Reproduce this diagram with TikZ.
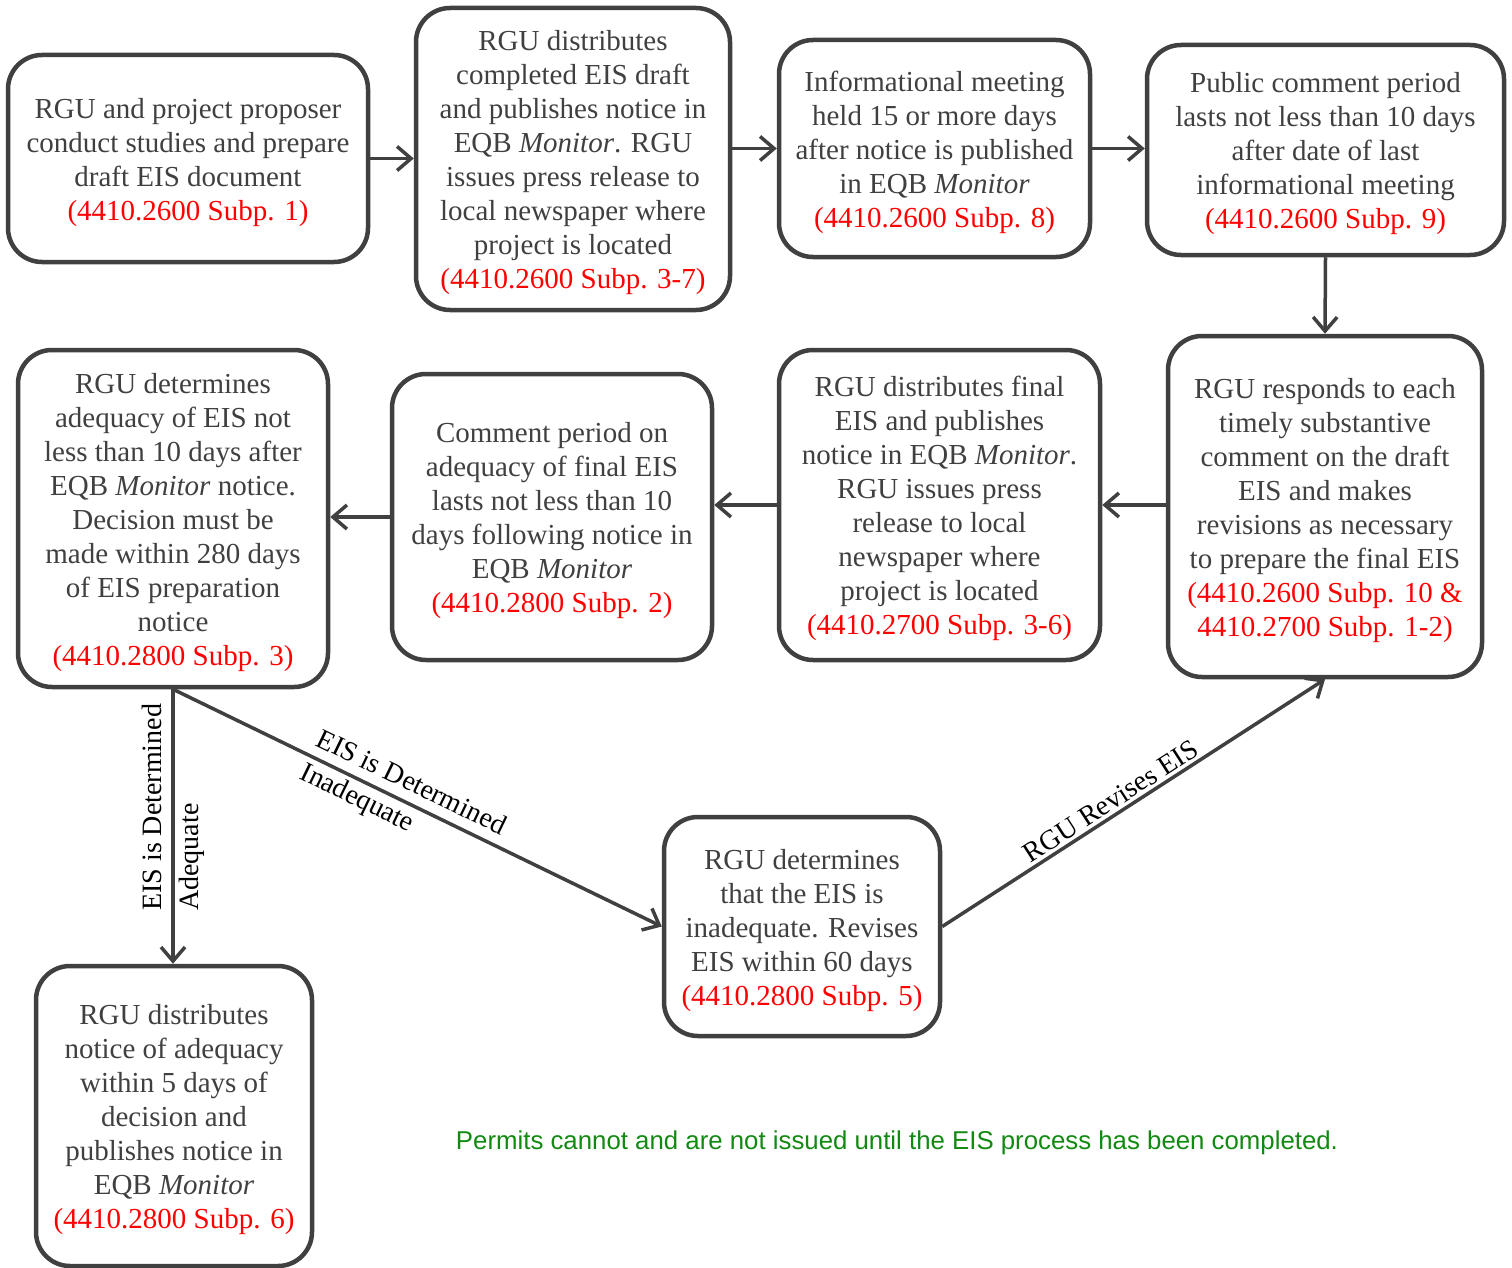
\documentclass[tikz,border=0pt]{standalone}
\usepackage{fontspec}
\setmainfont{Liberation Serif}
\newfontfamily\greenfont{Liberation Sans}
\usetikzlibrary{arrows.meta}
\definecolor{lc}{HTML}{404040}
\definecolor{tc}{HTML}{404040}
\definecolor{rc}{HTML}{FF0000}
\definecolor{gc}{HTML}{128A12}
\newcommand\rf[1]{\textcolor{rc}{#1}}
\newcommand\topst{\rule{0pt}{28pt}}
\tikzset{
  box/.style={draw=lc, line width=4.5pt, rounded corners=34pt, fill=white,
    text=tc, align=center, inner sep=0pt, rectangle,
    font=\fontsize{29}{34}\selectfont},
  conn/.style={draw=lc, line width=3.5pt, -{Straight Barb[length=14pt,width=24pt,line width=3.5pt]}},
  lbl/.style={text=black, font=\fontsize{28}{37}\selectfont, inner sep=3pt}
}
\begin{document}
\begin{tikzpicture}[x=1pt,y=-1pt]
\useasboundingbox (0,0) rectangle (1512,1268);
\node[box, minimum width=360pt, minimum height=207pt] (b1) at (188,158.5)
  {\topst RGU and project proposer\\conduct studies and prepare\\draft EIS document\\\rf{(4410.2600 Subp. 1)}};
\node[box, minimum width=314pt, minimum height=302pt] (b2) at (573,159)
  {\topst RGU distributes\\completed EIS draft\\and publishes notice in\\EQB \textit{Monitor}. RGU\\issues press release to\\local newspaper where\\project is located\\\rf{(4410.2600 Subp. 3-7)}};
\node[box, minimum width=311pt, minimum height=217pt] (b3) at (934.5,148.5)
  {\topst Informational meeting\\held 15 or more days\\after notice is published\\in EQB \textit{Monitor}\\\rf{(4410.2600 Subp. 8)}};
\node[box, minimum width=357pt, minimum height=210pt] (b4) at (1325.5,150)
  {\topst Public comment period\\lasts not less than 10 days\\after date of last\\informational meeting\\\rf{(4410.2600 Subp. 9)}};
\node[box, minimum width=314pt, minimum height=341pt] (b5) at (1325,506.5)
  {\topst RGU responds to each\\timely substantive\\comment on the draft\\EIS and makes\\revisions as necessary\\to prepare the final EIS\\\rf{(4410.2600 Subp. 10 \&}\\\rf{4410.2700 Subp. 1-2)}};
\node[box, minimum width=321pt, minimum height=310pt] (b6) at (939.5,505)
  {\topst RGU distributes final\\EIS and publishes\\notice in EQB \textit{Monitor}.\\RGU issues press\\release to local\\newspaper where\\project is located\\\rf{(4410.2700 Subp. 3-6)}};
\node[box, minimum width=320pt, minimum height=286pt] (b7) at (552,517)
  {\topst Comment period on\\adequacy of final EIS\\lasts not less than 10\\days following notice in\\EQB \textit{Monitor}\\\rf{(4410.2800 Subp. 2)}};
\node[box, minimum width=310pt, minimum height=337pt] (b8) at (173,518.5)
  {\topst RGU determines\\adequacy of EIS not\\less than 10 days after\\EQB \textit{Monitor} notice.\\Decision must be\\made within 280 days\\of EIS preparation\\notice\\\rf{(4410.2800 Subp. 3)}};
\node[box, minimum width=276pt, minimum height=300pt] (b9) at (174,1116)
  {\topst RGU distributes\\notice of adequacy\\within 5 days of\\decision and\\publishes notice in\\EQB \textit{Monitor}\\\rf{(4410.2800 Subp. 6)}};
\node[box, minimum width=276pt, minimum height=219pt] (b10) at (802,926.5)
  {\topst RGU determines\\that the EIS is\\inadequate. Revises\\EIS within 60 days\\\rf{(4410.2800 Subp. 5)}};

\draw[conn] (b1.east) -- (b1.east -| b2.west);
\draw[conn] (b3.west -| b2.east) -- (b3.west);
\draw[conn] (b3.east) -- (b3.east -| b4.west);
\draw[conn] (b4.south) -- (b5.north);
\draw[conn] (b5.west |- b6.east) -- (b6.east);
\draw[conn] (b6.west) -- (b6.west -| b7.east);
\draw[conn] (b7.west) -- (b7.west -| b8.east);
\draw[conn] (b8.south) -- (b8.south |- b9.north)
  node[lbl, pos=0.43, rotate=90, align=left] {EIS is Determined\\Adequate};
\draw[conn] (b8.south) -- (b10.west)
  node[lbl, pos=0.47, sloped, align=left] {EIS is Determined\\Inadequate};
\draw[conn] (b10.east) -- (b5.south)
  node[lbl, pos=0.46, sloped, above] {RGU Revises EIS};

\node[text=gc, font=\greenfont\fontsize{25.8}{30}\selectfont, inner sep=0pt] (note) at (897,1143)
  {Permits cannot and are not issued until the EIS process has been completed.};
\end{tikzpicture}
\end{document}
